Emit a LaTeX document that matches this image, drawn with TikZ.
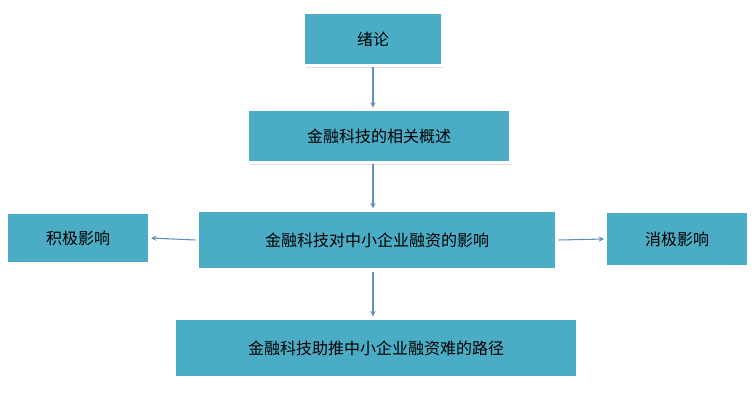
\documentclass[tikz,border=0pt]{standalone}
\usepackage{fontspec}
\newfontfamily\cjk{Noto Sans CJK SC}
\usetikzlibrary{shadows}
\tikzset{>=stealth}
\tikzset{
  topic/.style={fill={rgb,255:red,75;green,172;blue,198}, draw=white, line width=2.5pt,
    drop shadow={shadow xshift=1.5pt, shadow yshift=-1.5pt, fill=gray!50},
    font=\cjk\fontsize{12}{14}\selectfont, text=black, inner sep=0pt},
  link/.style={->, thick, draw={rgb,255:red,100;green,140;blue,190}}
}
\begin{document}
\begin{tikzpicture}[x=0.75pt,y=-0.75pt]
\useasboundingbox (0,0) rectangle (755,401);
\node[topic, minimum width=104pt, minimum height=40pt] (intro) at (373,39) {绪论};
\node[topic, minimum width=197pt, minimum height=40pt] (concept) at (379,136) {金融科技的相关概述};
\node[topic, minimum width=270pt, minimum height=45pt] (impact) at (377,240) {金融科技对中小企业融资的影响};
\node[topic, minimum width=107pt, minimum height=39pt] (pos) at (78,238) {积极影响};
\node[topic, minimum width=107pt, minimum height=41pt] (neg) at (677,239) {消极影响};
\node[topic, minimum width=302pt, minimum height=45pt] (path) at (376,348) {金融科技助推中小企业融资难的路径};
\draw[link] (intro.south -| 373,0) -- (concept.north -| 373,0);
\draw[link] (concept.south -| 373,0) -- (impact.north -| 373,0);
\draw[link] (impact.south -| 373,0) -- (path.north -| 373,0);
\draw[link] (impact.west) -- (pos.east);
\draw[link] (impact.east) -- (neg.west);
\end{tikzpicture}
\end{document}
